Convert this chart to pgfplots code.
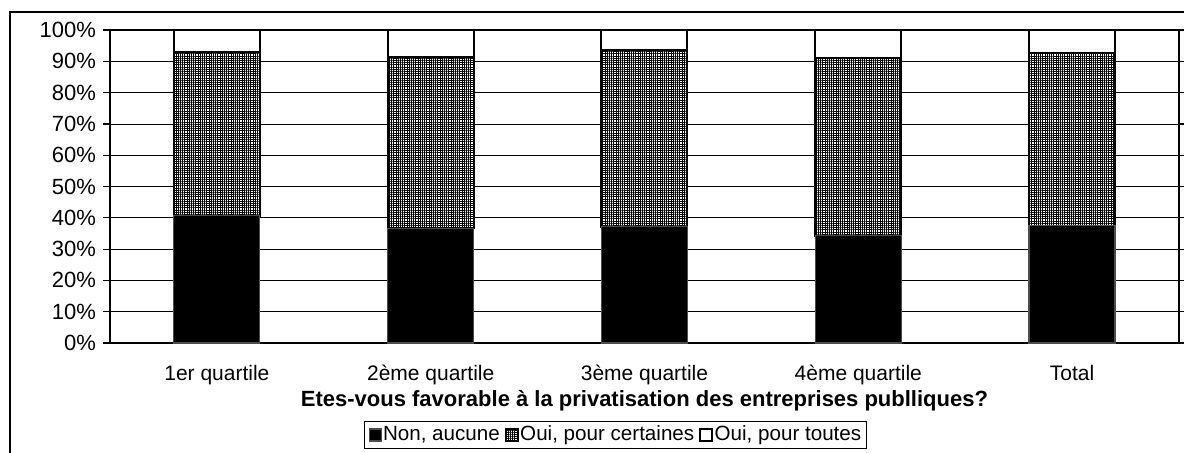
\documentclass[border=0pt]{standalone}
\usepackage{fontspec}
\setmainfont{Liberation Sans}
\usepackage{pgfplots}
\pgfplotsset{compat=1.18}
\usetikzlibrary{patterns.meta}
\begin{document}
\begin{tikzpicture}
\path[use as bounding box] (0pt,0pt) rectangle (592pt,226pt);
\draw[line width=1pt] (4.75pt,-3pt) -- (4.75pt,220.25pt) -- (596pt,220.25pt);
\begin{axis}[
  at={(55pt,54.5pt)}, anchor=south west, scale only axis,
  width=534.5pt, height=156.5pt,
  ybar stacked, bar width=43pt,
  xmin=-0.5, xmax=4.5, ymin=0, ymax=100,
  xtick={0,1,2,3,4},
  xticklabels={1er quartile,2ème quartile,3ème quartile,4ème quartile,Total},
  xtick style={draw=none},
  extra x ticks={-0.5,0.5,1.5,2.5,3.5,4.5},
  extra x tick labels={},
  extra x tick style={grid=none, tick align=outside, major tick length=3.5pt, tick style={draw=black, line width=0.6pt}},
  ytick={0,10,...,100},
  yticklabels={0\%,10\%,20\%,30\%,40\%,50\%,60\%,70\%,80\%,90\%,100\%},
  tick align=outside, major tick length=3.5pt,
  ytick style={draw=black, line width=0.6pt},
  ymajorgrids, grid style={black, line width=0.4pt},
  axis line style={line width=0.9pt},
  xticklabel style={font=\fontsize{10.5}{12}\selectfont, anchor=base, yshift=-15.3pt},
  yticklabel style={font=\fontsize{11}{12}\selectfont, anchor=east},
  xlabel={\textbf{Etes-vous favorable à la privatisation des entreprises publliques?}},
  xlabel style={at={(axis description cs:0.5,0)}, anchor=center, yshift=-29pt, font=\fontsize{11}{13}\selectfont},
  legend columns=3,
  legend style={at={(axis description cs:0.4729,-0.294)}, anchor=center, draw=black, line width=0.6pt,
    font=\fontsize{10.3}{12}\selectfont, inner xsep=2pt, inner ysep=1.5pt,
    nodes={inner sep=0.6pt},
    /tikz/every even column/.append style={column sep=2pt}},
  legend image code/.code={\draw[#1] (0pt,-3pt) rectangle (6pt,3pt);},
]
\addplot[fill=black, draw=gray!60!black, line width=0.6pt] coordinates {(0,40.7) (1,36.6) (2,37.2) (3,34.3) (4,37.5)};
\addplot[fill=white, draw=black, line width=1pt, postaction={pattern={Hatch[angle=0, distance=1.1pt, line width=0.4pt]}}] coordinates {(0,52.3) (1,54.8) (2,56.3) (3,56.7) (4,55.1)};
\addplot[fill=white, draw=black, line width=1pt] coordinates {(0,7.0) (1,8.6) (2,6.5) (3,9.0) (4,7.4)};
\legend{{Non, aucune},{Oui, pour certaines},{Oui, pour toutes}}
\end{axis}
\end{tikzpicture}
\end{document}
